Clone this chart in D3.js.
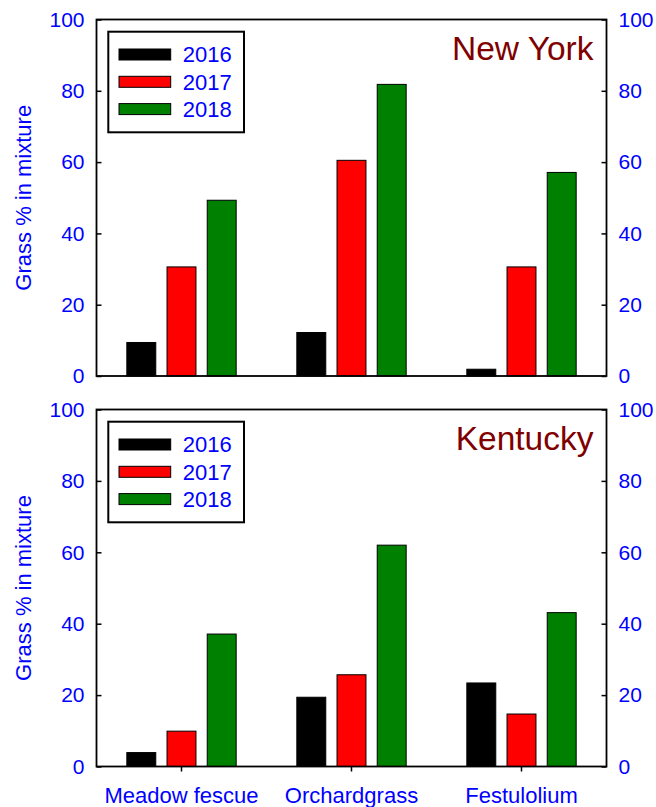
<!DOCTYPE html>
<html>
<head>
<meta charset="utf-8">
<script src="https://cdn.jsdelivr.net/npm/d3@7/dist/d3.min.js"></script>
<style>
  html, body { margin: 0; padding: 0; background: #ffffff; }
  svg { display: block; font-family: "Liberation Sans", Arial, Helvetica, sans-serif; }
</style>
</head>
<body>
<svg id="chart" width="656" height="807"></svg>
<script>
// ---- data ----
const categories = ["Meadow fescue", "Orchardgrass", "Festulolium"];
const years = ["2016", "2017", "2018"];
const panelNames = ["New York", "Kentucky"];
const ny2016 = [9.4, 12.2, 1.9];
const ny2017 = [30.6, 60.5, 30.6];
const ny2018 = [49.3, 81.8, 57.1];
const ky2016 = [3.9, 19.4, 23.4];
const ky2017 = [9.9, 25.7, 14.7];
const ky2018 = [37.1, 62.0, 43.1];
const yTicks = [0, 20, 40, 60, 80, 100];
const yTitle = "Grass % in mixture";

// ---- styles ----
const yearColors = ["#000000", "#ff0000", "#008000"];
const labelBlue = "#0000ff";
const titleRed = "#800000";

const panels = [
  { name: panelNames[0], series: [ny2016, ny2017, ny2018], top: 19.5, bottom: 376, xLabels: false },
  { name: panelNames[1], series: [ky2016, ky2017, ky2018], top: 409.5, bottom: 766.5, xLabels: true }
];

const left = 96.5, right = 606.5;
const svg = d3.select("#chart");

const x0 = d3.scaleBand().domain(categories).range([left, right]).paddingInner(0).paddingOuter(0);
const half = 60.3;
const x1 = d3.scaleBand().domain(years).range([-half, half]).paddingInner(0.28).paddingOuter(0.14);
const color = d3.scaleOrdinal().domain(years).range(yearColors);

panels.forEach(p => {
  const y = d3.scaleLinear().domain([0, 100]).range([p.bottom, p.top]);
  const g = svg.append("g");

  // bars
  const rows = categories.map((c, i) => ({ cat: c, vals: years.map((yr, j) => ({ yr, v: p.series[j][i] })) }));
  g.selectAll("g.grp").data(rows).join("g")
    .attr("class", "grp")
    .attr("transform", d => `translate(${x0(d.cat) + x0.bandwidth() / 2},0)`)
    .selectAll("rect").data(d => d.vals).join("rect")
      .attr("x", d => x1(d.yr))
      .attr("width", x1.bandwidth())
      .attr("y", d => y(d.v))
      .attr("height", d => y(0) - y(d.v))
      .attr("fill", d => color(d.yr))
      .attr("stroke", "#000")
      .attr("stroke-width", 1);

  // left axis
  const la = g.append("g").attr("transform", `translate(${left},0)`)
    .call(d3.axisLeft(y).tickValues(yTicks).tickSize(-5).tickPadding(12).tickFormat(d3.format("d")));
  // right axis
  const ra = g.append("g").attr("transform", `translate(${right},0)`)
    .call(d3.axisRight(y).tickValues(yTicks).tickSize(-5).tickPadding(12).tickFormat(d3.format("d")));
  [la, ra].forEach(a => {
    a.select(".domain").remove();
    a.selectAll(".tick line").attr("stroke", "#000").attr("stroke-width", 1.5);
    a.selectAll(".tick text").attr("fill", labelBlue).style("font-size", "21px");
  });

  // bottom axis (categories)
  if (p.xLabels) {
    const ba = g.append("g").attr("transform", `translate(0,${p.bottom})`)
      .call(d3.axisBottom(x0).tickSize(5).tickPadding(16));
    ba.select(".domain").remove();
    ba.selectAll(".tick line").attr("stroke", "#000").attr("stroke-width", 1.5);
    ba.selectAll(".tick text").attr("fill", labelBlue).style("font-size", "22px");
  }

  // frame
  g.append("rect")
    .attr("x", left).attr("y", p.top)
    .attr("width", right - left).attr("height", p.bottom - p.top)
    .attr("fill", "none").attr("stroke", "#000").attr("stroke-width", 1.8);

  // y title
  g.append("text")
    .attr("transform", `translate(31,${(p.top + p.bottom) / 2}) rotate(-90)`)
    .attr("text-anchor", "middle")
    .attr("fill", labelBlue)
    .style("font-size", "22px")
    .text(yTitle);

  // panel title
  g.append("text")
    .attr("x", right - 13).attr("y", p.top + 40.5)
    .attr("text-anchor", "end")
    .attr("fill", titleRed)
    .style("font-size", "33.5px")
    .text(p.name);

  // legend
  const lx = left + 11.8, ly = p.top + 12.2;
  g.append("rect")
    .attr("x", lx).attr("y", ly).attr("width", 135.7).attr("height", 100.6)
    .attr("fill", "#fff").attr("stroke", "#000").attr("stroke-width", 2);
  const li = g.selectAll("g.leg").data(years).join("g")
    .attr("class", "leg")
    .attr("transform", (d, i) => `translate(${lx},${ly + 22.8 + i * 27.3})`);
  li.append("rect")
    .attr("x", 10.7).attr("y", -5.5).attr("width", 51.7).attr("height", 11)
    .attr("fill", d => color(d)).attr("stroke", "#000").attr("stroke-width", 1);
  li.append("text")
    .attr("x", 74.4).attr("y", 0).attr("dy", "0.36em")
    .attr("fill", labelBlue)
    .style("font-size", "22px")
    .text(d => d);
});
</script>
</body>
</html>
